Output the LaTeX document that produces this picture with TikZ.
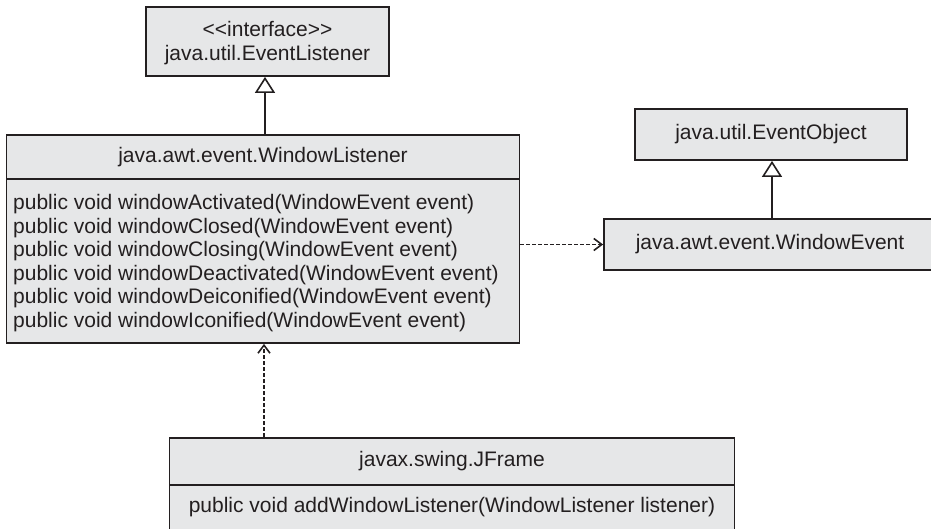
\documentclass[tikz,border=0pt]{standalone}
\usepackage{fontspec}
\newfontfamily\umlfont{Liberation Sans}
\usetikzlibrary{arrows.meta}
\definecolor{umlfill}{RGB}{230,231,232}
\definecolor{umlink}{RGB}{35,31,32}

\begin{document}
\begin{tikzpicture}[x=1pt,y=-1pt,
  umltext/.style={font=\umlfont\fontsize{21}{24}\selectfont, text=umlink, inner sep=0pt},
  classbox/.style={umltext, draw=umlink, fill=umlfill, line width=1.8pt},
  generalize/.style={draw=umlink, line width=1.8pt,
    -{Triangle[length=16pt,width=20pt,fill=white,line width=1.6pt]}},
  depend/.style={draw=umlink, line width=1.8pt, dash pattern=on 4pt off 2pt,
    -{Straight Barb[length=8pt,width=12pt,line width=1.6pt]}}]
  \useasboundingbox (0,0) rectangle (931,528);
  \clip (0,0) rectangle (931,528);

  % interface java.util.EventListener
  \node[classbox, minimum width=243pt, minimum height=69pt] (EL) at (267.5,41.5) {};
  \node[umltext, anchor=base] (ELs) at (267.5,36) {<<interface>>};
  \node[umltext, anchor=base] (ELn) at (267.5,60) {java.util.EventListener};

  % java.awt.event.WindowListener: name compartment and operations
  \node[classbox, minimum width=513pt, minimum height=44pt] (WLh) at (263,157) {java.awt.event.WindowListener};
  \node[classbox, minimum width=513pt, minimum height=164pt] (WLb) at (263,261) {};
  \node[umltext, anchor=base west] (m1) at (13,209.5) {public void windowActivated(WindowEvent event)};
  \node[umltext, anchor=base west] (m2) at (13,233)   {public void windowClosed(WindowEvent event)};
  \node[umltext, anchor=base west] (m3) at (13,256.5) {public void windowClosing(WindowEvent event)};
  \node[umltext, anchor=base west] (m4) at (13,280)   {public void windowDeactivated(WindowEvent event)};
  \node[umltext, anchor=base west] (m5) at (13,303.5) {public void windowDeiconified(WindowEvent event)};
  \node[umltext, anchor=base west] (m6) at (13,327)   {public void windowIconified(WindowEvent event)};

  % event classes
  \node[classbox, minimum width=272pt, minimum height=51pt] (EO) at (771,134.5) {java.util.EventObject};
  \node[classbox, minimum width=332pt, minimum height=51pt] (WE) at (770,244.5) {java.awt.event.WindowEvent};

  % javax.swing.JFrame
  \node[classbox, minimum width=565pt, minimum height=47pt] (JFh) at (452,461.2) {javax.swing.JFrame};
  \node[classbox, minimum width=565pt, minimum height=45pt] (JFb) at (452,507.5) {public void addWindowListener(WindowListener listener)};

  % relations
  \draw[generalize] ([xshift=2pt]WLh.north) -- ([xshift=2pt]WLh.north |- EL.south);
  \draw[generalize] ([xshift=2pt]WE.north) -- ([xshift=2pt]WE.north |- EO.south);
  \draw[depend] (WLb.east |- WE.west) -- (WE.west);
  \draw[depend] ([xshift=1pt]WLb.south |- JFh.north) -- ([xshift=1pt]WLb.south);
\end{tikzpicture}
\end{document}
